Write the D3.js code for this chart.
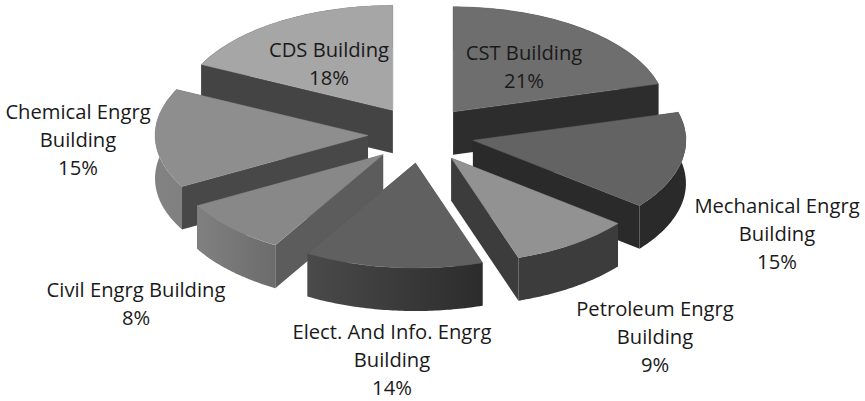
<!DOCTYPE html>
<html><head><meta charset="utf-8">
<script src="https://cdn.jsdelivr.net/npm/d3@7"></script>
<style>html,body{margin:0;background:#fff}svg{display:block}text{font-family:"Open Sans",sans-serif;font-size:20.2px;fill:#1a1a1a;text-anchor:middle}</style>
</head><body><svg id="c" width="865" height="401"></svg>
<script>
const categories=["CST Building","Mechanical Engrg Building","Petroleum Engrg Building","Elect. And Info. Engrg Building","Civil Engrg Building","Chemical Engrg Building","CDS Building"];
const values=[20.7,15,9.2,13.55,8.45,15.3,17.8];
const labelLines=[["CST Building"],["Mechanical Engrg","Building"],["Petroleum Engrg","Building"],["Elect. And Info. Engrg","Building"],["Civil Engrg Building"],["Chemical Engrg","Building"],["CDS Building"]];
const labelAnchors=[[524,53],[777,206],[655,309],[392,332],[136,290],[78,112],[329,50]];
const topColors=["#6e6e6e","#636363","#929292","#606060","#888888","#8e8e8e","#a6a6a6"];
const wallColors=["#2d2d2d","#2a2a2a","#3c3c3c","#444444","#5c5c5c","#484848","#444444"];
const outerFrom=["#2d2d2d","#2a2a2a","#3c3c3c","#4a4a4a","#808080","#828282","#444444"];
const outerTo=["#2d2d2d","#2a2a2a","#3c3c3c","#2c2c2c","#6c6c6c","#808080","#444444"];
const drawOrder=[6,0,5,1,4,2,3];

const cx=421,cy=134.6,rx=213,ry=105,depth=43,exX=53,exY=28.6,lineH=28;
const svg=d3.select("#c"),defs=svg.append("defs");
const arcs=d3.pie().sort(null).value(d=>d)(values);
const sx=d3.scaleLinear().domain([0,1]).range([0,rx]);
const sy=d3.scaleLinear().domain([0,1]).range([0,ry]);
const arcGen=d3.arc().innerRadius(0).outerRadius(1);
const line=d3.line();
function unitPt(t){return [sx(Math.sin(t)),sy(-Math.cos(t))];}

drawOrder.forEach(i=>{
  const a=arcs[i],mid=(a.startAngle+a.endAngle)/2;
  const ox=cx+exX*Math.sin(mid),oy=cy-exY*Math.cos(mid);
  const g=svg.append("g").attr("transform",`translate(${ox},${oy})`);
  const p0=unitPt(a.startAngle),p1=unitPt(a.endAngle);
  [p0,p1].forEach(p=>{
    g.append("path").attr("fill",wallColors[i])
     .attr("d",line([[0,0],p,[p[0],p[1]+depth],[0,depth]])+"Z");
  });
  const n=60,ts=d3.range(n+1).map(k=>a.startAngle+(a.endAngle-a.startAngle)*k/n);
  const up=ts.map(unitPt),down=ts.map(unitPt).map(p=>[p[0],p[1]+depth]).reverse();
  const gid="o"+i;
  const xs=ts.map(t=>unitPt(t)[0]);
  const lg=defs.append("linearGradient").attr("id",gid).attr("gradientUnits","userSpaceOnUse")
    .attr("x1",d3.min(xs)).attr("x2",d3.max(xs)).attr("y1",0).attr("y2",0);
  lg.append("stop").attr("offset",0).attr("stop-color",outerFrom[i]);
  lg.append("stop").attr("offset",1).attr("stop-color",outerTo[i]);
  g.append("path").attr("fill",`url(#${gid})`).attr("d",line(up.concat(down))+"Z");
  g.append("path").attr("fill",topColors[i])
   .attr("stroke",topColors[i]).attr("stroke-width",0.5).attr("vector-effect","non-scaling-stroke")
   .attr("transform",`scale(${sx(1)},${sy(1)})`)
   .attr("d",arcGen(a));
});

categories.forEach((c,i)=>{
  const t=svg.append("text").attr("x",labelAnchors[i][0]).attr("y",labelAnchors[i][1]+7);
  const lines=labelLines[i].concat([Math.round(values[i])+"%"]);
  lines.forEach((s,k)=>t.append("tspan").attr("x",labelAnchors[i][0]).attr("dy",k?lineH:0).text(s));
});
</script></body></html>
